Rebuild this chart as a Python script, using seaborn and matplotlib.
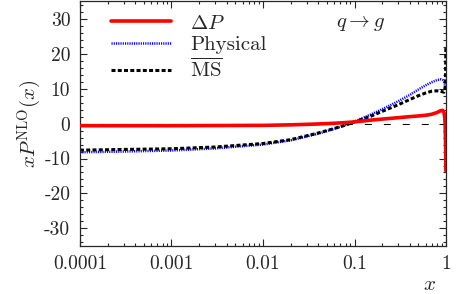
import numpy as np
import pandas as pd
import matplotlib
matplotlib.use('Agg')
import matplotlib.pyplot as plt
import matplotlib.ticker as mticker
import seaborn as sns

# ─── Data ─────────────────────────────────────────────────────────────────────
x_vals = [1e-4, 3e-4, 1e-3, 3e-3, 0.01, 0.02, 0.04, 0.06, 0.08, 0.1, 0.15,
          0.2, 0.3, 0.4, 0.5, 0.6, 0.7, 0.8, 0.87, 0.92, 0.95, 0.97, 0.98,
          0.99, 0.995]
delta_p = [-0.6, -0.6, -0.6, -0.55, -0.5, -0.35, -0.1, 0.1, 0.3, 0.5, 1.0,
           1.3, 1.7, 2.0, 2.2, 2.4, 2.7, 3.2, 3.7, 3.8, 3.2, 1.5, -1.0,
           -7.0, -13.5]
physical = [-8.2, -8.0, -7.7, -7.1, -6.0, -4.8, -2.9, -1.5, -0.4, 0.6, 2.6,
            4.1, 6.4, 8.2, 9.8, 11.0, 11.9, 12.5, 12.7, 12.5, 12.0, 11.3,
            10.8, 10.2, 9.8]
msbar = [-7.6, -7.4, -7.2, -6.7, -5.7, -4.6, -2.7, -1.4, -0.4, 0.5, 2.1,
         3.5, 5.4, 6.9, 8.0, 8.8, 9.3, 9.4, 9.3, 9.1, 9.0, 9.5, 11.0,
         15.0, 22.0]
x_ticks = [1e-4, 1e-3, 1e-2, 1e-1, 1]
x_ticklabels = ['0.0001', '0.001', '0.01', '0.1', '1']
y_ticks = [-30, -20, -10, 0, 10, 20, 30]
y_ticklabels = ['-30', '-20', '-10', '0', '10', '20', '30']

df = pd.DataFrame({'x': x_vals, 'dp': delta_p, 'phys': physical, 'ms': msbar})

# ─── Style ────────────────────────────────────────────────────────────────────
sns.set_style('ticks')
plt.rcParams['font.family'] = ['cmr10', 'DejaVu Serif']
plt.rcParams['mathtext.fontset'] = 'cm'
plt.rcParams['axes.formatter.use_mathtext'] = True

fig = plt.figure(figsize=(4.57, 2.94), dpi=100)
ax = fig.add_axes([0.175, 0.164, 0.801, 0.831])

# zero reference line
ax.axhline(0, color='black', lw=0.75, dashes=(6.7, 11.5), zorder=1)

sns.lineplot(data=df, x='x', y='dp', ax=ax, color='#ff0000', lw=2.6,
             label=r'$\Delta P$', zorder=3)
sns.lineplot(data=df, x='x', y='phys', ax=ax, color='#0000ff', lw=1.8,
             label='Physical', zorder=2)
sns.lineplot(data=df, x='x', y='ms', ax=ax, color='black', lw=2.2,
             label=r'$\overline{\mathrm{MS}}$', zorder=2)
lines = ax.get_lines()
lines[2].set_dashes((0.45, 0.45))
lines[3].set_dashes((1.3, 0.75))

ax.set_xscale('log')
ax.set_xlim(1e-4, 1)
ax.set_ylim(-35, 35)
ax.set_xticks(x_ticks)
ax.set_xticklabels(x_ticklabels)
ax.set_yticks(y_ticks)
ax.set_yticklabels(y_ticklabels)
ax.yaxis.set_minor_locator(mticker.MultipleLocator(2))
ax.xaxis.set_minor_locator(mticker.LogLocator(base=10, subs=np.arange(2, 10)))
ax.xaxis.set_minor_formatter(mticker.NullFormatter())

ax.tick_params(which='both', direction='in', top=True, right=True,
               labelsize=14, width=0.8, pad=7)
ax.tick_params(which='major', length=5)
ax.tick_params(which='minor', length=2.5)
for s in ax.spines.values():
    s.set_linewidth(0.9)

ax.set_xlabel(r'$x$', fontsize=15)
ax.xaxis.set_label_coords(0.955, -0.125)
ax.set_ylabel(r'$xP^{\rm NLO}(x)$', fontsize=15, labelpad=0)

ax.text(0.70, 0.895, r'$q \to g$', transform=ax.transAxes, fontsize=15)

leg = ax.legend(loc='upper left', frameon=False, fontsize=15,
                handlelength=2.9, handletextpad=0.9, labelspacing=0.15,
                borderaxespad=0.2, bbox_to_anchor=(0.05, 1.0))

fig.savefig('out.png', dpi=100)
